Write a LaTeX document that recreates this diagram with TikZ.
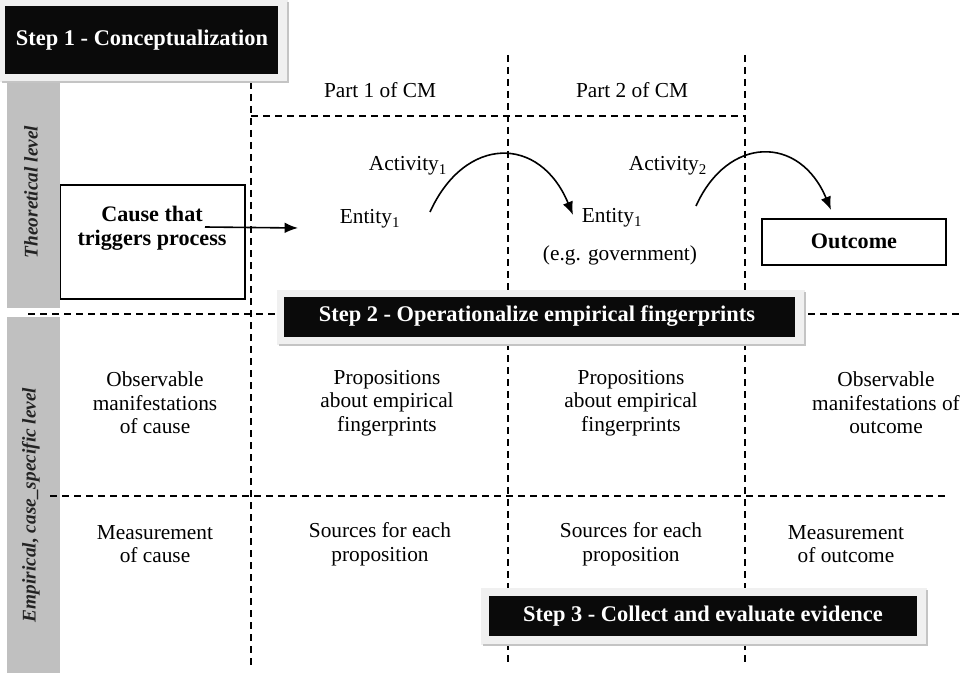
\documentclass[tikz,border=0pt]{standalone}
\usepackage{fontspec}
\setmainfont{Liberation Serif}
\usetikzlibrary{arrows.meta}
\definecolor{sidegray}{RGB}{192,192,192}
\definecolor{framegray}{RGB}{240,240,240}
\definecolor{shadowgray}{RGB}{196,196,196}
\definecolor{boxblack}{RGB}{10,10,10}
\definecolor{labelink}{RGB}{35,35,35}
\begin{document}
\begin{tikzpicture}[x=0.75pt,y=-0.75pt,
  gridline/.style={line width=1.3pt, dash pattern=on 5.2pt off 3.8pt},
  body/.style={font=\fontsize{16}{17.7}\selectfont, align=center, inner sep=0pt},
  boldtxt/.style={font=\fontsize{16.6}{18}\selectfont\bfseries, align=center, inner sep=0pt},
  steptext/.style={font=\fontsize{16.8}{18}\selectfont\bfseries, text=white, inner sep=0pt},
  sidelabel/.style={font=\fontsize{14.5}{16}\selectfont\bfseries\itshape, rotate=90, text=labelink, inner sep=0pt},
  plainbox/.style={line width=1.4pt},
  arr/.style={line width=1.2pt, -{Latex[length=10pt,width=8pt]}},
  frame/.style={fill=framegray},
  frameshadow/.style={draw=shadowgray, line width=1pt}
]
\useasboundingbox (0,0) rectangle (965,674);

% cause box (left edge hidden by side bar)
\draw[plainbox] (60,185) rectangle (245,299);

% side bars
\fill[sidegray] (7,80) rectangle (60,308);
\fill[sidegray] (7,317) rectangle (60,673);
\node[sidelabel] (lth) at (31,192) {Theoretical level};
\node[sidelabel] (lem) at (31,505) {Empirical, case\_specific level};

% dashed grid
\coordinate (v1t) at (251,82);  \coordinate (v1b) at (251,665);
\coordinate (v2t) at (508,55);  \coordinate (v2b) at (508,665);
\coordinate (v3t) at (745,55);  \coordinate (v3b) at (745,665);
\coordinate (h1l) at (251,116); \coordinate (h1r) at (745,116);
\coordinate (h2l) at (28,314);  \coordinate (h2r) at (962,314);
\coordinate (h3l) at (50,496);  \coordinate (h3r) at (945,496);
\draw[gridline] (v1t) -- (v1b);
\draw[gridline] (v2t) -- (v2b);
\draw[gridline] (v3t) -- (v3b);
\draw[gridline] (h1l) -- (h1r);
\draw[gridline] (h2l) -- (h2r);
\draw[gridline] (h3l) -- (h3r);

% step 1
\path[frame] (0,0) rectangle (288,82);
\draw[frameshadow] (288,2) -- (288,82) -- (2,82);
\fill[boxblack] (5,6) rectangle (278,74);
\node[steptext] (s1) at (142,40) {Step 1 - Conceptualization};

% theoretical level texts
\node[body] (p1) at (380,90) {Part 1 of CM};
\node[body] (p2) at (632,90) {Part 2 of CM};
\node[boldtxt] (cause) at (152,228) {Cause that\\triggers process};
\node[body] (act1) at (408,166) {Activity\textsubscript{1}};
\node[body] (ent1) at (370,219) {Entity\textsubscript{1}};
\node[body] (ent2) at (612,218) {Entity\textsubscript{1}};
\node[body] (eg) at (620,255) {(e.g. government)};
\node[body] (act2) at (668,166) {Activity\textsubscript{2}};
\draw[plainbox] (762,219) rectangle (946,265);
\node[boldtxt] (out) at (854,241) {Outcome};

% arrows
\coordinate (a0s) at (205,227);
\coordinate (a0e) at (298,228);
\draw[arr] (a0s) -- (a0e);
\coordinate (a1s) at (430,212);
\coordinate (a1e) at (573,215);
\draw[arr] (a1s) .. controls (465,135) and (540,135) .. (a1e);
\coordinate (a2s) at (696,206);
\coordinate (a2e) at (831,210);
\draw[arr] (a2s) .. controls (728,135) and (800,135) .. (a2e);

% step 2
\path[frame] (277,290) rectangle (805,345);
\draw[frameshadow] (805,292) -- (805,345) -- (279,345);
\fill[boxblack] (284,297) rectangle (795,337);
\node[steptext] (s2) at (537,316) {Step 2 - Operationalize empirical fingerprints};

% empirical row 1
\node[body] (r1a) at (155,403) {Observable\\manifestations\\of cause};
\node[body] (r1b) at (387,403) {Propositions\\about empirical\\fingerprints};
\node[body] (r1c) at (631,403) {Propositions\\about empirical\\fingerprints};
\node[body] (r1d) at (886,403) {Observable\\manifestations of\\outcome};

% empirical row 2
\node[body] (r2a) at (155,544) {Measurement\\of cause};
\node[body] (r2b) at (380,544) {Sources for each\\proposition};
\node[body] (r2c) at (631,544) {Sources for each\\proposition};
\node[body] (r2d) at (846,544) {Measurement\\of outcome};

% step 3
\path[frame] (481,588) rectangle (927,645);
\draw[frameshadow] (927,590) -- (927,645) -- (483,645);
\fill[boxblack] (489,596) rectangle (917,636);
\node[steptext] (s3) at (703,616) {Step 3 - Collect and evaluate evidence};
\end{tikzpicture}
\end{document}
